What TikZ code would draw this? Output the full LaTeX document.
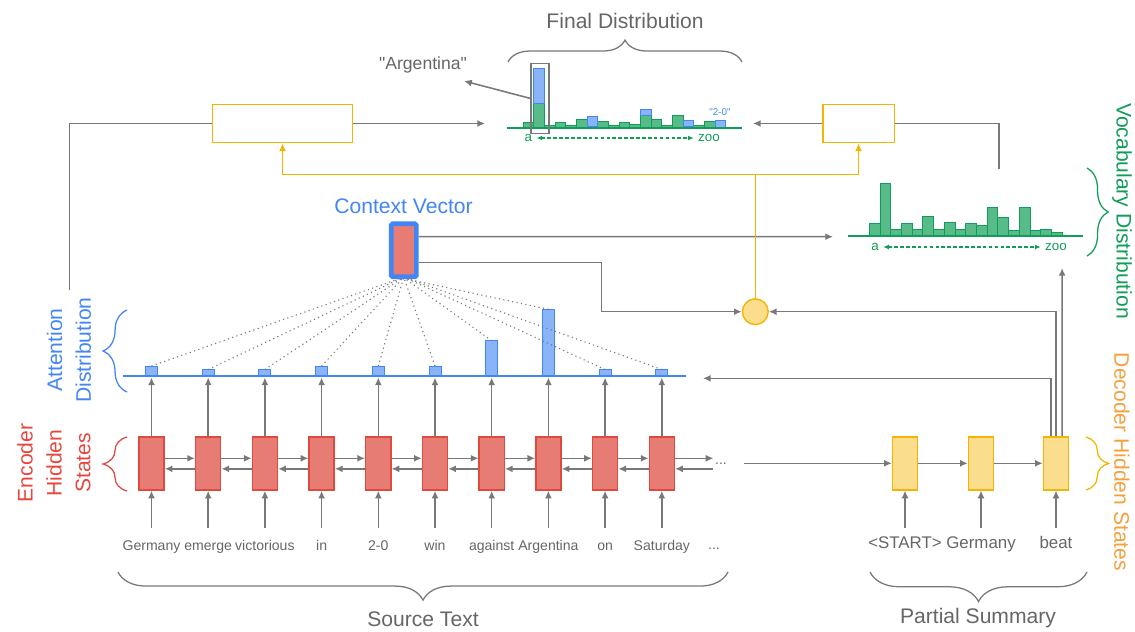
\documentclass[tikz,border=0pt]{standalone}
\usepackage{fontspec}
\setmainfont{Liberation Sans}
\newfontfamily\qtfont{Liberation Sans}
\usetikzlibrary{arrows.meta,decorations.pathreplacing,calc}

\definecolor{txtgray}{HTML}{666666}
\definecolor{lngray}{HTML}{787878}
\definecolor{encfill}{HTML}{E67C73}
\definecolor{encline}{HTML}{DF4A3E}
\definecolor{encred}{HTML}{E8453C}
\definecolor{attblue}{HTML}{4285F4}
\definecolor{attfill}{HTML}{8AB4F8}
\definecolor{vocgreen}{HTML}{0F9D58}
\definecolor{vocfill}{HTML}{57BB8A}
\definecolor{decline}{HTML}{F4B400}
\definecolor{decfill}{HTML}{FADE8D}
\definecolor{decorange}{HTML}{F6A03D}

\tikzset{
  gline/.style={draw=lngray, line width=1.1pt},
  gconn/.style={gline, -{Latex[length=5.5pt,width=5pt]}},
  oline/.style={draw=decline, line width=1pt},
  oconn/.style={oline, -{Latex[length=5.5pt,width=5pt]}},
  cell/.style={minimum width=17.8pt, minimum height=37.7pt, inner sep=0pt, line width=1pt},
  encbox/.style={cell, draw=encline, fill=encfill},
  decbox/.style={cell, draw=decline, fill=decfill},
  gatebox/.style={draw=decline, line width=1.1pt, minimum height=27.2pt, inner sep=0pt},
  word/.style={text=txtgray, font=\fontsize{10}{12}\selectfont, inner sep=1pt, anchor=base},
  dword/.style={text=txtgray, font=\fontsize{12}{14}\selectfont, inner sep=1pt, anchor=base},
  lbltitle/.style={text=txtgray, font=\fontsize{15}{18}\selectfont, inner sep=1pt},
  lblside/.style={font=\fontsize{15}{20.5}\selectfont, inner sep=1pt, align=center},
  lblsmall/.style={font=\fontsize{9.5}{11}\selectfont, inner xsep=3pt, inner ysep=1pt},
  brc/.style={decorate, decoration={brace, amplitude=#1}, line width=0.9pt},
  vbar/.style={draw=vocgreen, fill=vocfill, line width=0.7pt},
  pbar/.style={draw=attblue, fill=attfill, line width=0.7pt},
  vspan/.style={draw=vocgreen, line width=0.9pt, dash pattern=on 2.6pt off 1.6pt,
    {Latex[length=4pt,width=3.5pt]}-{Latex[length=4pt,width=3.5pt]}},
  dotline/.style={draw=lngray, line width=0.8pt, dash pattern=on 0.8pt off 2.4pt},
}

\begin{document}
\begin{tikzpicture}[x=0.025cm, y=-0.025cm]
\useasboundingbox (0,0) rectangle (1135,631);

% encoder states, words and attention bars
\foreach \x/\w/\t [count=\i] in {151.5/Germany/366, 208.2/emerge/369.5, 264.9/victorious/369.5,
    321.6/in/366, 378.3/2-0/366, 435/win/366, 491.7/against/340.7, 548.4/Argentina/309.3,
    605.1/on/369.5, 661.8/Saturday/369.5}{
  \node[encbox] (enc\i) at (\x,463.5) {};
  \node[word] (w\i) at (\x,550) {\w};
  \coordinate (in\i) at (\x,528);
  \draw[gconn] (in\i) -- (enc\i.south);
  \draw[pbar] (\x-6,376) rectangle (\x+6,\t);
  \coordinate (att\i) at (\x,\t);
  \coordinate (attb\i) at (\x,377.5);
  \draw[gconn] (enc\i.north) -- (attb\i);
}
\draw[attblue, line width=1.3pt] (123,376) -- (686,376);

\foreach \i [evaluate=\i as \j using int(\i+1)] in {1,...,9}{
  \draw[gconn] ([yshift=3.7pt]enc\i.east) -- ([yshift=3.7pt]enc\j.west);
  \draw[gconn] ([yshift=-3.8pt]enc\j.west) -- ([yshift=-3.8pt]enc\i.east);
}
\node[word, anchor=center] (encdots) at (721,463.5) {...};
\draw[gconn] ([yshift=3.7pt]enc10.east) -- ([yshift=3.7pt]encdots.west);
\draw[gconn] ([yshift=-3.8pt]encdots.west) -- ([yshift=-3.8pt]enc10.east);
\node[word] (wdots) at (714,549) {...};

% context vector
\node[cell, draw=attblue, fill=encfill, line width=3.3pt, rounded corners=1pt] (ctx) at (403.8,250.3) {};
\node[lbltitle, text=attblue] (ctxlbl) at (403.5,206) {Context Vector};
\foreach \i in {1,...,10}
  \draw[dotline] (att\i) -- ([xshift={(\i-5.5)*0.9pt}]ctx.south);

% decoder states
\foreach \x/\w [count=\i] in {905/<START>, 981/Germany, 1056/beat}{
  \node[decbox] (dec\i) at (\x,463.3) {};
  \node[dword] (dw\i) at (\x,548) {\w};
  \coordinate (din\i) at (\x,528);
  \draw[gconn] (din\i) -- (dec\i.south);
}
\coordinate (encout) at (744,463.3);
\draw[gconn] (encout) -- (dec1.west);
\draw[gconn] (dec1.east) -- (dec2.west);
\draw[gconn] (dec2.east) -- (dec3.west);

% generation gate
\node[circle, draw=decline, fill=decfill, line width=1pt, minimum size=18.3pt, inner sep=0pt] (gate) at (755.3,311.7) {};
\coordinate (ctxbend) at (601.7,311.7);
\draw[gconn] ([yshift=-8.8pt]ctx.east) -| (ctxbend) -- (gate.west);
\coordinate (vocl) at (833,236.7);
\draw[gconn] ([yshift=9.7pt]ctx.east) -- (vocl);
\coordinate (atte) at (703,378.3);
\draw[gconn] ([xshift=-3.6pt]dec3.north) |- (atte);
\draw[gconn] (dec3.north) |- (gate.east);
\coordinate (vocup) at (1062.1,268);
\draw[gconn] ([xshift=4.3pt]dec3.north) -- (vocup);

% weighting boxes
\node[gatebox, minimum width=99.8pt] (gl) at (282.5,123.5) {};
\node[gatebox, minimum width=50.9pt] (gr) at (858.5,123.5) {};
\coordinate (split) at (755.3,174.3);
\draw[oline] (gate.north) -- (split);
\draw[oconn] (split) -| (gl.south);
\draw[oconn] (split) -| (gr.south);
\coordinate (attup) at (69.3,290);
\draw[gline] (gl.west) -| (attup);
\coordinate (fdl) at (485,123.5);
\draw[gconn] (gl.east) -- (fdl);
\coordinate (fdr) at (753,123.5);
\draw[gconn] (gr.west) -- (fdr);
\coordinate (vtop) at (999,169);
\draw[gline] (gr.east) -| (vtop);

% final distribution
\foreach \t [count=\i] in {122.7,103.3,125,122.7,125,119,126,121.7,125.7,122.7,124,115.7,119,125.7,115,126,125.7,121.7,128}
  \draw[vbar] ({523.3+(\i-1)*10.65},128) rectangle ({523.3+\i*10.65},\t);
\foreach \i/\a/\b in {2/68/103.3, 7/116.7/126, 12/109.3/115.7, 16/120/126, 19/120/128}
  \draw[pbar] ({523.3+(\i-1)*10.65},\b) rectangle ({523.3+\i*10.65},\a);
\draw[vocgreen, line width=1.3pt] (507,128) -- (742,128);
\node[draw=lngray, line width=1.1pt, minimum width=13pt, minimum height=49.8pt, inner sep=0pt] (argbox) at (539.9,98.3) {};
\node[text=txtgray, font=\qtfont\fontsize{12.5}{14}\selectfont] (arglbl) at (423,65) {"Argentina"};
\coordinate (argtip) at (464,81);
\draw[gconn] (argbox.west) -- (argtip);
\node[text=attblue, font=\qtfont\fontsize{7}{8}\selectfont, inner sep=1pt] (lbl20) at (720,112) {"2-0"};
\node[lblsmall, text=vocgreen] (fa) at (528.3,138) {a};
\node[lblsmall, text=vocgreen] (fz) at (709,138) {zoo};
\draw[vspan] (fa.east) -- (fz.west);
\draw[brc=15.6pt, draw=lngray] (508,62) -- (742,62);
\node[lbltitle] (fdlbl) at (625,20.7) {Final Distribution};

% vocabulary distribution
\foreach \t [count=\i] in {223.3,183.3,229.3,223.3,229.3,216,229.3,222.3,229.3,223.3,225,207.3,217.3,230,207.3,230,229,232.7}
  \draw[vbar] ({869.3+(\i-1)*10.72},235.7) rectangle ({869.3+\i*10.72},\t);
\draw[vocgreen, line width=1.3pt] (848,235.7) -- (1083,235.7);
\node[lblsmall, text=vocgreen] (va) at (875,247) {a};
\node[lblsmall, text=vocgreen] (vz) at (1056,247) {zoo};
\draw[vspan] (va.east) -- (vz.west);

% braces and labels
\draw[brc=20pt, draw=lngray] (728,572) -- (118,572);
\node[lbltitle] (srclbl) at (423,619) {Source Text};
\draw[brc=21pt, draw=lngray] (1087,572) -- (870,572);
\node[lbltitle] (sumlbl) at (978,618) {Partial Summary};
\draw[brc=15pt, draw=vocgreen] (1087,168) -- (1087,256);
\node[lbltitle, text=vocgreen, rotate=-90] (voclbl) at (1122,211) {Vocabulary Distribution};
\draw[brc=16pt, draw=decline] (1086,437) -- (1086,490);
\node[lbltitle, text=decorange, rotate=-90] (declbl) at (1122,462) {Decoder Hidden States};
\draw[brc=17pt, draw=attblue] (127,392) -- (127,310);
\node[lblside, text=attblue, rotate=90] (attlbl) at (69,350) {Attention\\Distribution};
\draw[brc=17pt, draw=encline] (127,491) -- (127,437);
\node[lblside, text=encred, rotate=90] (enclbl) at (54,463) {Encoder\\Hidden\\States};
\end{tikzpicture}
\end{document}
